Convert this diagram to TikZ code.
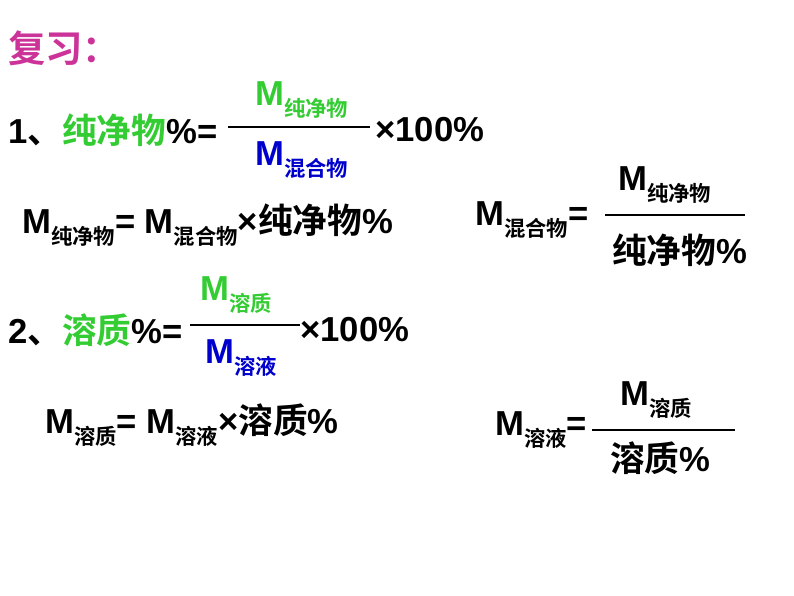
\documentclass[tikz,border=0pt]{standalone}
\usepackage{fontspec}
\setmainfont{Liberation Sans}[BoldFont={Liberation Sans Bold}]
\newfontfamily\cjk{Noto Sans CJK SC}[BoldFont={Noto Sans CJK SC Bold}]
\definecolor{mag}{HTML}{CC3399}
\definecolor{grn}{HTML}{33CC33}
\definecolor{blu}{HTML}{0000CC}
\newcommand\Zh[1]{{\cjk #1}}
\newcommand\Ms[1]{M\raisebox{-0.3em}{\fontsize{16}{17}\selectfont\bfseries\cjk #1}}
\tikzset{t/.style={anchor=west,inner sep=0pt,font=\fontsize{26}{29}\selectfont\bfseries},
 fl/.style={line width=1.3pt}}
\begin{document}
\begin{tikzpicture}[x=0.75pt,y=-0.75pt]
\useasboundingbox[fill=white] (0,0) rectangle (794,596);
\node[t,text=mag,font=\fontsize{28}{30}\selectfont\bfseries] (h) at (8,48) {\Zh{复习：}};
% 1
\node[t] (a1) at (8,130) {1\Zh{、}\textcolor{grn}{\Zh{纯净物}}\%=};
\draw[fl] (228,127) coordinate (l1a) -- (370,127) coordinate (l1b);
\node[t,text=grn] (n1) at (255,100) {\Ms{纯净物}};
\node[t,text=blu] (d1) at (255,160) {\Ms{混合物}};
\node[t] (p1) at (375,130) {×100\%};
\node[t] (r1) at (22,225) {\Ms{纯净物}= \Ms{混合物}×\Zh{纯净物}\%};
\node[t] (q1) at (475,220) {\Ms{混合物}=};
\draw[fl] (605,215) -- (745,215);
\node[t] (qn1) at (618,185) {\Ms{纯净物}};
\node[t] (qd1) at (612,250) {\Zh{纯净物}\%};
% 2
\node[t] (a2) at (8,330) {2\Zh{、}\textcolor{grn}{\Zh{溶质}}\%=};
\draw[fl] (190,325) -- (300,325);
\node[t,text=grn] (n2) at (200,295) {\Ms{溶质}};
\node[t,text=blu] (d2) at (205,358) {\Ms{溶液}};
\node[t] (p2) at (300,330) {×100\%};
\node[t] (r2) at (45,425) {\Ms{溶质}= \Ms{溶液}×\Zh{溶质}\%};
\node[t] (q2) at (495,430) {\Ms{溶液}=};
\draw[fl] (592,430) -- (735,430);
\node[t] (qn2) at (620,400) {\Ms{溶质}};
\node[t] (qd2) at (610,458) {\Zh{溶质}\%};
\end{tikzpicture}
\end{document}
